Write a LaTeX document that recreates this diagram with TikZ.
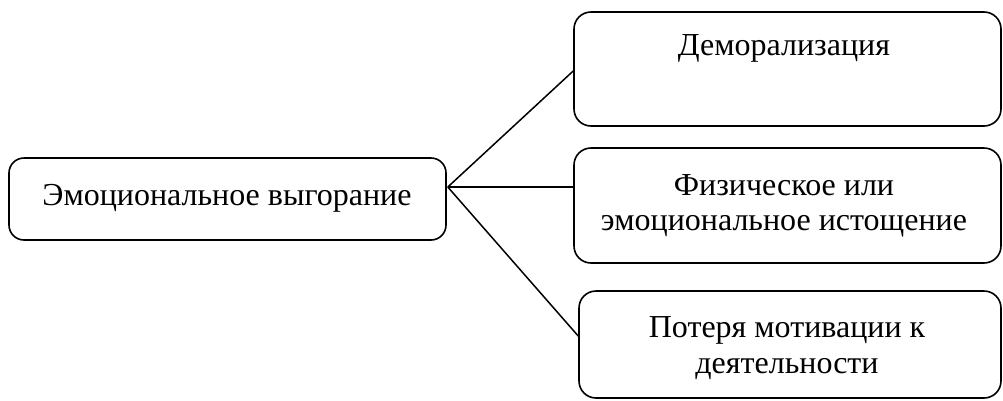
\documentclass[tikz,border=0pt]{standalone}
\usepackage{fontspec}
\setmainfont{Liberation Serif}
\usetikzlibrary{calc}
\tikzset{
  box/.style={draw=black, line width=1.6pt, rounded corners=17pt, inner sep=0pt},
  lbl/.style={font=\fontsize{32}{35}\selectfont, inner sep=0pt, anchor=base},
  conn/.style={draw=black, line width=1.5pt}
}
\begin{document}
\begin{tikzpicture}[x=1pt,y=-1pt]
\useasboundingbox (0,0) rectangle (1003,400);
% boxes
\node[box, rounded corners=15pt, minimum width=437pt, minimum height=82pt] (root) at (227.5,199) {};
\node[box, minimum width=427pt, minimum height=114pt] (b1) at (787.5,69) {};
\node[box, minimum width=427pt, minimum height=115pt] (b2) at (787.5,205.5) {};
\node[box, minimum width=422pt, minimum height=107pt] (b3) at (790,344.5) {};
% texts
\node[lbl] (t0) at (227,205) {Эмоциональное выгорание};
\node[lbl] (t1) at (784,55) {Деморализация};
\node[lbl] (t2a) at (784,195) {Физическое или};
\node[lbl] (t2b) at (784,230) {эмоциональное истощение};
\node[lbl] (t3a) at (787,337) {Потеря мотивации к};
\node[lbl] (t3b) at (787,373) {деятельности};
% connectors
\coordinate (hub) at ($(root.east)+(1,-12)$);
\draw[conn] (hub) -- ($(b1.west)+(0,2)$);
\draw[conn] (hub) -- (b2.west |- hub);
\draw[conn] (hub) -- ($(b3.west)+(0,-8.5)$);
\end{tikzpicture}
\end{document}
